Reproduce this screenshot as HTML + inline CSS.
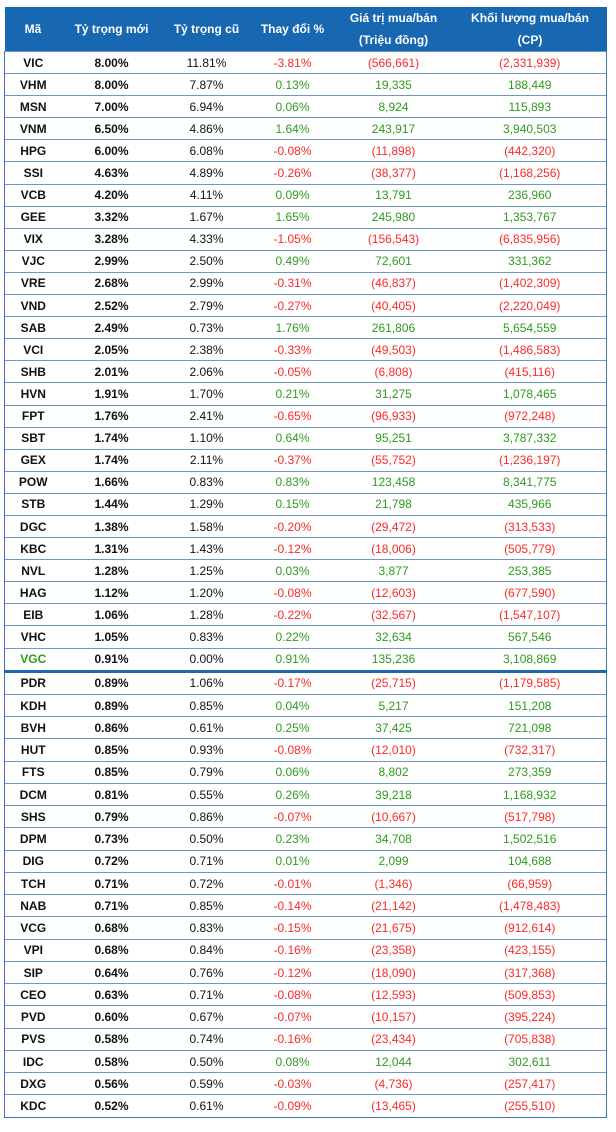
<!DOCTYPE html>
<html><head><meta charset="utf-8"><style>
body{margin:0;background:#fff;width:616px;height:1132px;overflow:hidden;font-family:"Liberation Sans",Arial,sans-serif}
table{position:absolute;left:4px;top:7px;width:602px;border-collapse:collapse;table-layout:fixed;font-size:12px}
th{background:#1767b1;color:#fff;font-weight:bold;height:44px;line-height:22px;padding:0;font-size:12px}
td{text-align:center;padding:0;height:21.1px;border-top:1px solid #6e97c9;color:#111}
td:nth-child(1),td:nth-child(2){font-weight:bold}
tbody tr td:first-child{border-left:1.5px solid #3f76bd}
tbody tr td:last-child{border-right:1.5px solid #3f76bd}
tr.b td{height:21.25px}
tr.last td{border-bottom:1.5px solid #3f76bd}
tr.sep td{border-top:3px solid #1f66b0}
.g{color:#2f9a1f}.r{color:#fb2a2a}
</style></head><body>
<table>
<colgroup><col style="width:57px"><col style="width:100px"><col style="width:90px"><col style="width:82px"><col style="width:120px"><col style="width:153px"></colgroup>
<thead><tr><th>Mã</th><th>Tỷ trọng mới</th><th>Tỷ trọng cũ</th><th>Thay đổi %</th><th>Giá trị mua/bán<br>(Triệu đồng)</th><th>Khối lượng mua/bán<br>(CP)</th></tr></thead>
<tbody>
<tr><td>VIC</td><td>8.00%</td><td>11.81%</td><td class="r">-3.81%</td><td class="r">(566,661)</td><td class="r">(2,331,939)</td></tr>
<tr><td>VHM</td><td>8.00%</td><td>7.87%</td><td class="g">0.13%</td><td class="g">19,335</td><td class="g">188,449</td></tr>
<tr><td>MSN</td><td>7.00%</td><td>6.94%</td><td class="g">0.06%</td><td class="g">8,924</td><td class="g">115,893</td></tr>
<tr><td>VNM</td><td>6.50%</td><td>4.86%</td><td class="g">1.64%</td><td class="g">243,917</td><td class="g">3,940,503</td></tr>
<tr><td>HPG</td><td>6.00%</td><td>6.08%</td><td class="r">-0.08%</td><td class="r">(11,898)</td><td class="r">(442,320)</td></tr>
<tr><td>SSI</td><td>4.63%</td><td>4.89%</td><td class="r">-0.26%</td><td class="r">(38,377)</td><td class="r">(1,168,256)</td></tr>
<tr><td>VCB</td><td>4.20%</td><td>4.11%</td><td class="g">0.09%</td><td class="g">13,791</td><td class="g">236,960</td></tr>
<tr><td>GEE</td><td>3.32%</td><td>1.67%</td><td class="g">1.65%</td><td class="g">245,980</td><td class="g">1,353,767</td></tr>
<tr><td>VIX</td><td>3.28%</td><td>4.33%</td><td class="r">-1.05%</td><td class="r">(156,543)</td><td class="r">(6,835,956)</td></tr>
<tr><td>VJC</td><td>2.99%</td><td>2.50%</td><td class="g">0.49%</td><td class="g">72,601</td><td class="g">331,362</td></tr>
<tr><td>VRE</td><td>2.68%</td><td>2.99%</td><td class="r">-0.31%</td><td class="r">(46,837)</td><td class="r">(1,402,309)</td></tr>
<tr><td>VND</td><td>2.52%</td><td>2.79%</td><td class="r">-0.27%</td><td class="r">(40,405)</td><td class="r">(2,220,049)</td></tr>
<tr><td>SAB</td><td>2.49%</td><td>0.73%</td><td class="g">1.76%</td><td class="g">261,806</td><td class="g">5,654,559</td></tr>
<tr><td>VCI</td><td>2.05%</td><td>2.38%</td><td class="r">-0.33%</td><td class="r">(49,503)</td><td class="r">(1,486,583)</td></tr>
<tr><td>SHB</td><td>2.01%</td><td>2.06%</td><td class="r">-0.05%</td><td class="r">(6,808)</td><td class="r">(415,116)</td></tr>
<tr><td>HVN</td><td>1.91%</td><td>1.70%</td><td class="g">0.21%</td><td class="g">31,275</td><td class="g">1,078,465</td></tr>
<tr><td>FPT</td><td>1.76%</td><td>2.41%</td><td class="r">-0.65%</td><td class="r">(96,933)</td><td class="r">(972,248)</td></tr>
<tr><td>SBT</td><td>1.74%</td><td>1.10%</td><td class="g">0.64%</td><td class="g">95,251</td><td class="g">3,787,332</td></tr>
<tr><td>GEX</td><td>1.74%</td><td>2.11%</td><td class="r">-0.37%</td><td class="r">(55,752)</td><td class="r">(1,236,197)</td></tr>
<tr><td>POW</td><td>1.66%</td><td>0.83%</td><td class="g">0.83%</td><td class="g">123,458</td><td class="g">8,341,775</td></tr>
<tr><td>STB</td><td>1.44%</td><td>1.29%</td><td class="g">0.15%</td><td class="g">21,798</td><td class="g">435,966</td></tr>
<tr><td>DGC</td><td>1.38%</td><td>1.58%</td><td class="r">-0.20%</td><td class="r">(29,472)</td><td class="r">(313,533)</td></tr>
<tr><td>KBC</td><td>1.31%</td><td>1.43%</td><td class="r">-0.12%</td><td class="r">(18,006)</td><td class="r">(505,779)</td></tr>
<tr><td>NVL</td><td>1.28%</td><td>1.25%</td><td class="g">0.03%</td><td class="g">3,877</td><td class="g">253,385</td></tr>
<tr><td>HAG</td><td>1.12%</td><td>1.20%</td><td class="r">-0.08%</td><td class="r">(12,603)</td><td class="r">(677,590)</td></tr>
<tr><td>EIB</td><td>1.06%</td><td>1.28%</td><td class="r">-0.22%</td><td class="r">(32,567)</td><td class="r">(1,547,107)</td></tr>
<tr><td>VHC</td><td>1.05%</td><td>0.83%</td><td class="g">0.22%</td><td class="g">32,634</td><td class="g">567,546</td></tr>
<tr><td class="g">VGC</td><td>0.91%</td><td>0.00%</td><td class="g">0.91%</td><td class="g">135,236</td><td class="g">3,108,869</td></tr>
<tr class="b sep"><td>PDR</td><td>0.89%</td><td>1.06%</td><td class="r">-0.17%</td><td class="r">(25,715)</td><td class="r">(1,179,585)</td></tr>
<tr class="b"><td>KDH</td><td>0.89%</td><td>0.85%</td><td class="g">0.04%</td><td class="g">5,217</td><td class="g">151,208</td></tr>
<tr class="b"><td>BVH</td><td>0.86%</td><td>0.61%</td><td class="g">0.25%</td><td class="g">37,425</td><td class="g">721,098</td></tr>
<tr class="b"><td>HUT</td><td>0.85%</td><td>0.93%</td><td class="r">-0.08%</td><td class="r">(12,010)</td><td class="r">(732,317)</td></tr>
<tr class="b"><td>FTS</td><td>0.85%</td><td>0.79%</td><td class="g">0.06%</td><td class="g">8,802</td><td class="g">273,359</td></tr>
<tr class="b"><td>DCM</td><td>0.81%</td><td>0.55%</td><td class="g">0.26%</td><td class="g">39,218</td><td class="g">1,168,932</td></tr>
<tr class="b"><td>SHS</td><td>0.79%</td><td>0.86%</td><td class="r">-0.07%</td><td class="r">(10,667)</td><td class="r">(517,798)</td></tr>
<tr class="b"><td>DPM</td><td>0.73%</td><td>0.50%</td><td class="g">0.23%</td><td class="g">34,708</td><td class="g">1,502,516</td></tr>
<tr class="b"><td>DIG</td><td>0.72%</td><td>0.71%</td><td class="g">0.01%</td><td class="g">2,099</td><td class="g">104,688</td></tr>
<tr class="b"><td>TCH</td><td>0.71%</td><td>0.72%</td><td class="r">-0.01%</td><td class="r">(1,346)</td><td class="r">(66,959)</td></tr>
<tr class="b"><td>NAB</td><td>0.71%</td><td>0.85%</td><td class="r">-0.14%</td><td class="r">(21,142)</td><td class="r">(1,478,483)</td></tr>
<tr class="b"><td>VCG</td><td>0.68%</td><td>0.83%</td><td class="r">-0.15%</td><td class="r">(21,675)</td><td class="r">(912,614)</td></tr>
<tr class="b"><td>VPI</td><td>0.68%</td><td>0.84%</td><td class="r">-0.16%</td><td class="r">(23,358)</td><td class="r">(423,155)</td></tr>
<tr class="b"><td>SIP</td><td>0.64%</td><td>0.76%</td><td class="r">-0.12%</td><td class="r">(18,090)</td><td class="r">(317,368)</td></tr>
<tr class="b"><td>CEO</td><td>0.63%</td><td>0.71%</td><td class="r">-0.08%</td><td class="r">(12,593)</td><td class="r">(509,853)</td></tr>
<tr class="b"><td>PVD</td><td>0.60%</td><td>0.67%</td><td class="r">-0.07%</td><td class="r">(10,157)</td><td class="r">(395,224)</td></tr>
<tr class="b"><td>PVS</td><td>0.58%</td><td>0.74%</td><td class="r">-0.16%</td><td class="r">(23,434)</td><td class="r">(705,838)</td></tr>
<tr class="b"><td>IDC</td><td>0.58%</td><td>0.50%</td><td class="g">0.08%</td><td class="g">12,044</td><td class="g">302,611</td></tr>
<tr class="b"><td>DXG</td><td>0.56%</td><td>0.59%</td><td class="r">-0.03%</td><td class="r">(4,736)</td><td class="r">(257,417)</td></tr>
<tr class="b last"><td>KDC</td><td>0.52%</td><td>0.61%</td><td class="r">-0.09%</td><td class="r">(13,465)</td><td class="r">(255,510)</td></tr>
</tbody></table>
</body></html>
